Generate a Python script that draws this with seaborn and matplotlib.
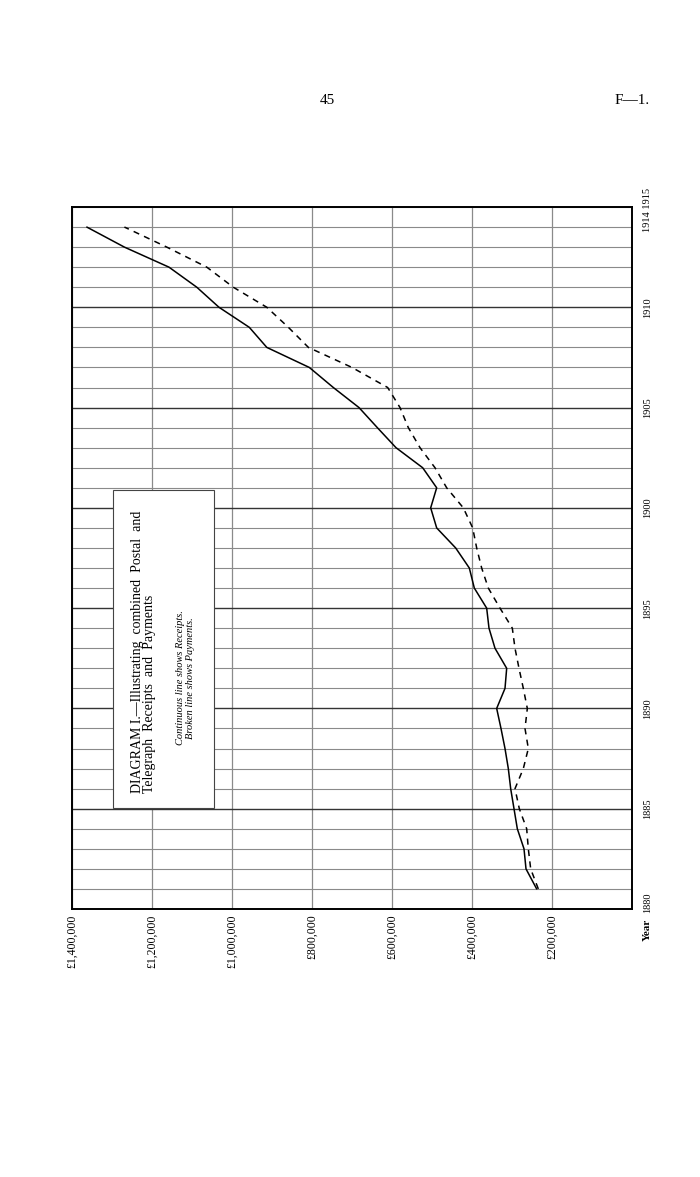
import matplotlib

matplotlib.use("Agg", force=True)

import matplotlib.pyplot as plt
import matplotlib.ticker as mticker
import pandas as pd
import seaborn as sns
from matplotlib.patches import Rectangle

# financial years plotted (year ending)
years = [1881, 1882, 1883, 1884, 1885, 1886, 1887, 1888, 1889, 1890,
         1891, 1892, 1893, 1894, 1895, 1896, 1897, 1898, 1899, 1900,
         1901, 1902, 1903, 1904, 1905, 1906, 1907, 1908, 1909, 1910,
         1911, 1912, 1913, 1914]

receipts = [238300, 265000, 270000, 286700, 295000, 303300, 309200, 317500, 327500, 338300,
            317500, 313300, 342500, 357500, 363300, 394200, 406700, 440800, 488300, 503300,
            488300, 523300, 590000, 636700, 682500, 746700, 806700, 913000, 956700, 1032500,
            1088000, 1157500, 1269000, 1363000]

payments = [234200, 253300, 259200, 263300, 281700, 292500, 271700, 259200, 267500, 261700,
            271700, 282500, 292500, 299200, 330000, 359200, 375800, 388300, 398300, 421700,
            463300, 492500, 530000, 559200, 580000, 610800, 700000, 809000, 859000, 913000,
            996700, 1063000, 1163000, 1269000]

value_ticks = [200000, 400000, 600000, 800000, 1000000, 1200000, 1400000]
value_labels = ["£200,000", "£400,000", "£600,000", "£800,000",
                "£1,000,000", "£1,200,000", "£1,400,000"]
year_ticks = [1880.3, 1885, 1890, 1895, 1900, 1905, 1910, 1914.85]
year_labels = ["1880", "1885", "1890", "1895", "1900", "1905", "1910", "1914 1915"]

df = pd.DataFrame({"year": years, "Receipts": receipts, "Payments": payments})
long = df.melt(id_vars="year", var_name="series", value_name="amount")

sns.set_style("white")
plt.rcParams["font.family"] = ["Liberation Serif", "DejaVu Serif"]
plt.rcParams["text.color"] = "black"
plt.rcParams["xtick.color"] = "black"
plt.rcParams["ytick.color"] = "black"

fig = plt.figure(figsize=(7.0, 11.77), dpi=100)
ax = fig.add_axes([72 / 700, 1 - 909 / 1177, 560 / 700, 702 / 1177])

sns.lineplot(data=long, x="amount", y="year", hue="series", style="series",
             palette={"Receipts": "black", "Payments": "black"},
             dashes={"Receipts": "", "Payments": (4, 3.5)},
             sort=False, orient="y", linewidth=1.1, legend=False, ax=ax, zorder=3)

ax.set_xlim(1400000, 0)
ax.set_ylim(1880, 1915)

# grid: every year, heavier every five years
ax.yaxis.set_minor_locator(mticker.MultipleLocator(1))
ax.yaxis.set_major_locator(mticker.FixedLocator(year_ticks))
ax.yaxis.set_major_formatter(mticker.FixedFormatter(year_labels))
ax.xaxis.set_major_locator(mticker.FixedLocator(value_ticks))
ax.xaxis.set_major_formatter(mticker.FixedFormatter(value_labels))
ax.grid(which="minor", axis="y", color="#8a8a8a", linewidth=0.8)
ax.grid(which="major", axis="x", color="#8a8a8a", linewidth=0.9)
# heavier five-year rules
for yr in [1885, 1890, 1895, 1900, 1905, 1910]:
    ax.axhline(yr, color="#333333", linewidth=1.0, zorder=1)
ax.set_axisbelow(True)

ax.yaxis.tick_right()
ax.tick_params(axis="y", which="both", length=0, pad=8, labelsize=7.5, labelrotation=90)
for lab in ax.get_yticklabels():
    lab.set_verticalalignment("center")
ax.tick_params(axis="x", length=0, pad=4, labelsize=8.5)
for lab in ax.get_xticklabels():
    lab.set_rotation(90)
    lab.set_verticalalignment("top")
    lab.set_horizontalalignment("center")

for side in ax.spines.values():
    side.set_color("black")
    side.set_linewidth(1.4)

ax.set_xlabel("")
ax.set_ylabel("")

# title box
ax.add_patch(Rectangle((0.0732, 0.144), 0.181, 0.453, transform=ax.transAxes,
                       facecolor="white", edgecolor="#444444", linewidth=0.8, zorder=4))
ax.text(0.1166, 0.165, "DIAGRAM I.—Illustrating  combined  Postal  and",
        transform=ax.transAxes, rotation=90, rotation_mode="anchor",
        ha="left", va="center", fontsize=10, zorder=5)
ax.text(0.1380, 0.165, "Telegraph  Receipts  and  Payments",
        transform=ax.transAxes, rotation=90, rotation_mode="anchor",
        ha="left", va="center", fontsize=10, zorder=5)
ax.text(0.1929, 0.329, "Continuous line shows Receipts.",
        transform=ax.transAxes, rotation=90, rotation_mode="anchor",
        ha="center", va="center", fontsize=7.5, style="italic", zorder=5)
ax.text(0.2120, 0.329, "Broken line shows Payments.",
        transform=ax.transAxes, rotation=90, rotation_mode="anchor",
        ha="center", va="center", fontsize=7.5, style="italic", zorder=5)

# page furniture
fig.text(327 / 700, 1 - 100 / 1177, "45", ha="center", va="center", fontsize=11)
fig.text(632 / 700, 1 - 100 / 1177, "F—1.", ha="center", va="center", fontsize=11)
fig.text(647 / 700, 1 - 930 / 1177, "Year", rotation=90, ha="center", va="center",
         fontsize=8, fontweight="bold")

fig.savefig("out.png", dpi=100)
plt.close(fig)
